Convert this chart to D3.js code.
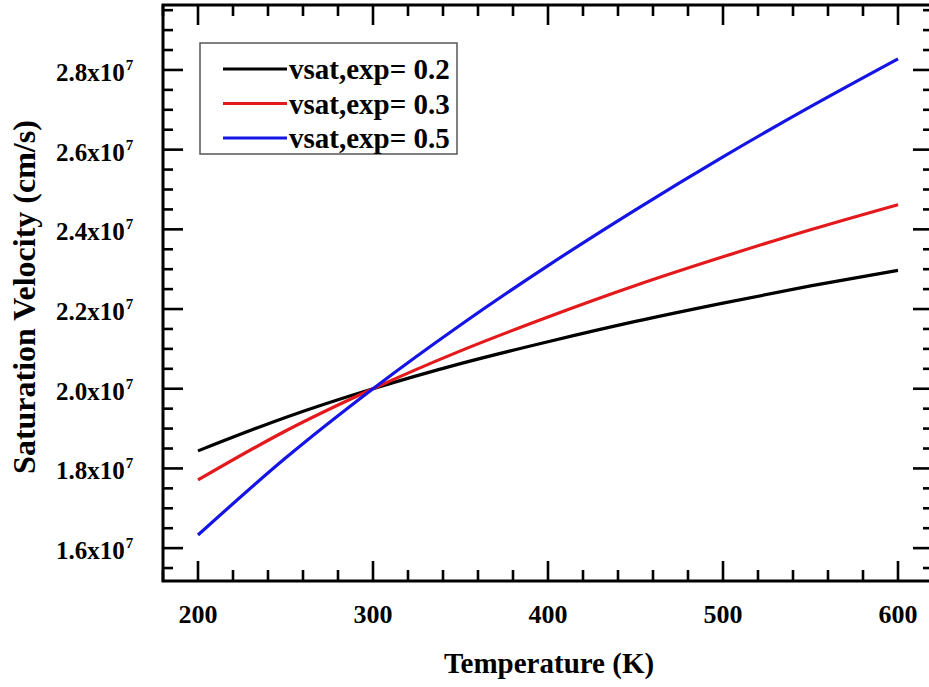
<!DOCTYPE html>
<html>
<head>
<meta charset="utf-8">
<script src="https://cdn.jsdelivr.net/npm/d3@7"></script>
<style>
body{margin:0;background:#fff;}
text{font-family:"Liberation Serif","Times New Roman",serif;font-weight:bold;fill:#000;}
</style>
</head>
<body>
<svg id="chart" width="929" height="687"></svg>
<script>
// Data (velocity in units of 1e7 cm/s)
const temperatures = [200, 250, 300, 350, 400, 450, 500, 550, 600];
const seriesNames = ["vsat,exp= 0.2", "vsat,exp= 0.3", "vsat,exp= 0.5"];
const vExp02 = [1.844, 1.928, 2.000, 2.063, 2.118, 2.169, 2.215, 2.258, 2.297];
const vExp03 = [1.771, 1.894, 2.000, 2.095, 2.180, 2.259, 2.331, 2.399, 2.462];
const vExp05 = [1.633, 1.826, 2.000, 2.160, 2.309, 2.449, 2.582, 2.708, 2.828];
const seriesColors = ["#000000", "#e3191b", "#1414e6"];
const xTickValues = [200, 300, 400, 500, 600];
const yTickValues = [1.6, 1.8, 2.0, 2.2, 2.4, 2.6, 2.8];

const svg = d3.select("#chart");
const L = 163, R = 933, T = 5, B = 581;

const x = d3.scaleLinear().domain([180, 620]).range([L, R]);
const y = d3.scaleLinear().domain([1.5175, 2.963]).range([B, T]);

const series = [vExp02, vExp03, vExp05];

// Clip
svg.append("defs").append("clipPath").attr("id","clip")
  .append("rect").attr("x",L).attr("y",T).attr("width",R-L).attr("height",B-T);

// Curves
const line = d3.line()
  .x((d,i)=>x(temperatures[i]))
  .y(d=>y(d))
  .curve(d3.curveMonotoneX);

series.forEach((s,k)=>{
  svg.append("path")
    .attr("d", line(s))
    .attr("fill","none")
    .attr("stroke", seriesColors[k])
    .attr("stroke-width", 3.2)
    .attr("clip-path","url(#clip)");
});

// Ticks
const xMinor = d3.range(180, 621, 20).filter(v=>v%100!==0);
const yMinor = d3.range(1.55, 2.96, 0.05).map(v=>+v.toFixed(2)).filter(v=>Math.abs(v*10 - Math.round(v*10))>1e-6 || Math.round(v*10)%2!==0);

const tickG = svg.append("g").attr("stroke","#000").attr("stroke-width",2.6);
function xt(vals, len){
  vals.forEach(v=>{
    tickG.append("line").attr("x1",x(v)).attr("x2",x(v)).attr("y1",B).attr("y2",B-len);
    tickG.append("line").attr("x1",x(v)).attr("x2",x(v)).attr("y1",T).attr("y2",T+len);
  });
}
function yt(vals, len){
  vals.forEach(v=>{
    tickG.append("line").attr("y1",y(v)).attr("y2",y(v)).attr("x1",L).attr("x2",L+len);
    tickG.append("line").attr("y1",y(v)).attr("y2",y(v)).attr("x1",R).attr("x2",R-len);
  });
}
xt(xTickValues, 20);
xt(xMinor, 11);
yt(yTickValues, 20);
yt(yMinor, 10);

// Frame
svg.append("rect").attr("x",L).attr("y",T).attr("width",R-L).attr("height",B-T)
  .attr("fill","none").attr("stroke","#000").attr("stroke-width",3);

// X tick labels
svg.append("g").selectAll("text").data(xTickValues).join("text")
  .attr("x", d=>x(d)).attr("y", 623)
  .attr("text-anchor","middle").attr("font-size",26)
  .text(d=>d);

// Y tick labels
const yl = svg.append("g").selectAll("text").data(yTickValues).join("text")
  .attr("x", 56).attr("y", d=>y(d)+11)
  .attr("text-anchor","start").attr("font-size",25);
yl.append("tspan").text(d=>d.toFixed(1)+"x10");
yl.append("tspan").attr("font-size",15).attr("dy",-11).attr("dx",1).text("7");

// Axis titles
svg.append("text").attr("x", 549).attr("y", 673)
  .attr("text-anchor","middle").attr("font-size",29).text("Temperature (K)");
svg.append("text").attr("transform","translate(35,297) rotate(-90)")
  .attr("text-anchor","middle").attr("font-size",32).text("Saturation Velocity (cm/s)");

// Legend
const lg = svg.append("g");
lg.append("rect").attr("x",200).attr("y",43).attr("width",257).attr("height",111)
  .attr("fill","#fff").attr("stroke","#555").attr("stroke-width",1.5);
seriesNames.forEach((n,k)=>{
  const yy = 69 + k*34.5;
  lg.append("line").attr("x1",223).attr("x2",287).attr("y1",yy).attr("y2",yy)
    .attr("stroke",seriesColors[k]).attr("stroke-width",3.2);
  lg.append("text").attr("x",289).attr("y",yy+10).attr("font-size",29).text(n);
});
</script>
</body>
</html>
